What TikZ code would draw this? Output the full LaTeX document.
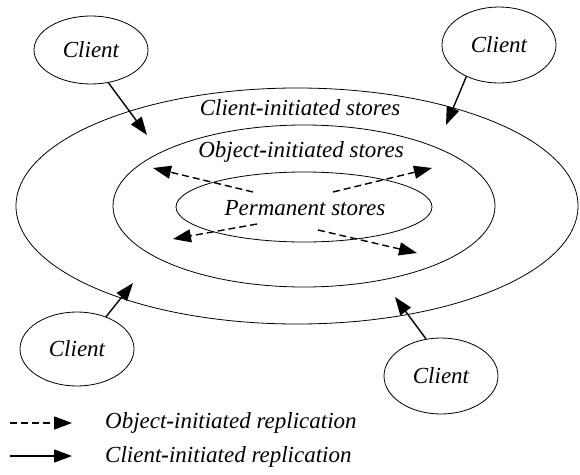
\documentclass[tikz,border=0pt]{standalone}
\usepackage{fontspec}
\setmainfont{Liberation Serif}
\usetikzlibrary{shapes.geometric,arrows.meta}
\newcommand{\hy}{\textbf{-}}
\tikzset{
  ring/.style={draw, ellipse, line width=0.8pt, inner sep=0pt},
  client/.style={draw, ellipse, line width=0.8pt, inner sep=0pt, minimum width=114pt, minimum height=72pt, font=\fontsize{23}{27}\selectfont\itshape},
  lbl/.style={inner sep=0pt, font=\fontsize{23}{27}\selectfont\itshape},
  solidarrow/.style={line width=1.4pt, -{Triangle[length=18pt,width=13pt]}},
  dasharrow/.style={line width=1.4pt, dash pattern=on 7pt off 4pt, -{Triangle[length=18pt,width=13pt]}},
}
\begin{document}
\begin{tikzpicture}[x=1pt,y=-1pt]
\useasboundingbox (0,0) rectangle (580,474);
% store rings
\node[ring, minimum width=562pt, minimum height=236pt] (outer) at (297,206) {};
\node[ring, minimum width=382pt, minimum height=162pt] (middle) at (304,206) {};
\node[ring, minimum width=256pt, minimum height=70pt] (inner) at (304,207) {};
\node[lbl] (tout) at (300,108) {Client\hy initiated stores};
\node[lbl] (tmid) at (301,152) {Object\hy initiated stores};
\node[lbl] (tin) at (305,208) {Permanent stores};
% clients
\node[client, minimum height=68pt] (c1) at (91,50) {Client};
\node[client, minimum height=76pt] (c2) at (499,45) {Client};
\node[client, minimum height=74pt] (c3) at (77,349) {Client};
\node[client, minimum height=76pt] (c4) at (441,376) {Client};
% client arrow targets
\coordinate (t1) at (147,135);
\coordinate (t2) at (446,125);
\coordinate (t3) at (133,283);
\coordinate (t4) at (395,297);
\draw[solidarrow] (c1.298) -- (t1);
\draw[solidarrow] (c2.224) -- (t2);
\draw[solidarrow] (c3.48) -- (t3);
\draw[solidarrow] (c4.112) -- (t4);
% object-initiated replication
\coordinate (s1) at (253,192); \coordinate (e1) at (153,168);
\coordinate (s2) at (333,192); \coordinate (e2) at (432,168);
\coordinate (s3) at (257,224); \coordinate (e3) at (173,239);
\coordinate (s4) at (318,230); \coordinate (e4) at (417,253);
\draw[dasharrow] (s1) -- (e1);
\draw[dasharrow] (s2) -- (e2);
\draw[dasharrow] (s3) -- (e3);
\draw[dasharrow] (s4) -- (e4);
% legend
\coordinate (l1s) at (10,423); \coordinate (l1e) at (72,423);
\coordinate (l2s) at (10,456); \coordinate (l2e) at (72,456);
\draw[dasharrow] (l1s) -- (l1e);
\draw[solidarrow] (l2s) -- (l2e);
\node[lbl, anchor=west] (leg1) at (105,423) {Object\hy initiated replication};
\node[lbl, anchor=west] (leg2) at (105,457) {Client\hy initiated replication};
\end{tikzpicture}
\end{document}
